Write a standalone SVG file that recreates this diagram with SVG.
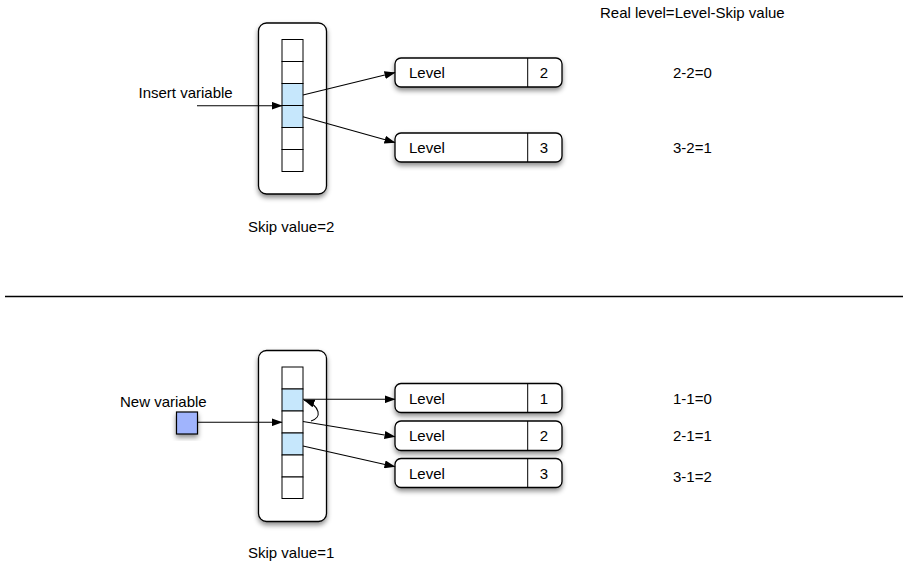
<svg xmlns="http://www.w3.org/2000/svg" width="903" height="565" viewBox="0 0 903 565">
<style>
text{font-family:"Liberation Sans",Arial,sans-serif;font-size:15px;fill:#000}
.box{fill:#fff;stroke:#000;stroke-width:1.3}
.cell{fill:#fff;stroke:#000;stroke-width:1}
.hl{fill:#c6e7fc}
.conn{fill:none;stroke:#000;stroke-width:1.1;marker-end:url(#ah)}
.sh{filter:url(#ds)}
</style>
<defs>
<filter id="ds" x="-30%" y="-30%" width="160%" height="160%">
<feDropShadow dx="0" dy="3" stdDeviation="2.5" flood-color="#000" flood-opacity="0.45"/>
</filter>
<marker id="ah" markerWidth="11" markerHeight="8" refX="10.5" refY="4" orient="auto" markerUnits="userSpaceOnUse">
<path d="M0,0 L11,4 L0,8 Z" fill="#000"/>
</marker>
</defs>
<rect width="903" height="565" fill="#fff"/>

<text x="600" y="17.5">Real level=Level-Skip value</text>

<!-- Top section -->
<g id="array-top">
<rect class="box sh" x="258.5" y="23" width="68" height="171" rx="8"/>
<rect class="cell" x="282" y="39.5" width="21" height="22"/>
<rect class="cell" x="282" y="61.5" width="21" height="22"/>
<rect class="cell hl" x="282" y="83.5" width="21" height="22"/>
<rect class="cell hl" x="282" y="105.5" width="21" height="22"/>
<rect class="cell" x="282" y="127.5" width="21" height="22"/>
<rect class="cell" x="282" y="149.5" width="21" height="22"/>
</g>
<g id="label-insert"><text x="138.5" y="97.5">Insert variable</text></g>
<g id="skip-top"><text x="248" y="232">Skip value=2</text></g>

<g id="level-top-2">
<rect class="box sh" x="395" y="58" width="167" height="29" rx="6"/>
<line x1="527.7" y1="58" x2="527.7" y2="87" stroke="#000" stroke-width="1"/>
<text x="409" y="77.5">Level</text>
<text x="544" y="77.5" text-anchor="middle">2</text>
</g>
<g id="level-top-3">
<rect class="box sh" x="395" y="133" width="167" height="29" rx="6"/>
<line x1="527.7" y1="133" x2="527.7" y2="162" stroke="#000" stroke-width="1"/>
<text x="409" y="152.5">Level</text>
<text x="544" y="152.5" text-anchor="middle">3</text>
</g>
<text x="673" y="77.5">2-2=0</text>
<text x="673" y="152.5">3-2=1</text>

<line x1="5" y1="296.5" x2="903" y2="296.5" stroke="#000" stroke-width="1.3"/>

<!-- Bottom section -->
<g id="array-bottom">
<rect class="box sh" x="258.5" y="350.5" width="68" height="171" rx="8"/>
<rect class="cell" x="282" y="367" width="21" height="22"/>
<rect class="cell hl" x="282" y="389" width="21" height="22"/>
<rect class="cell" x="282" y="411" width="21" height="22"/>
<rect class="cell hl" x="282" y="433" width="21" height="22"/>
<rect class="cell" x="282" y="455" width="21" height="22"/>
<rect class="cell" x="282" y="477" width="21" height="21.5"/>
</g>
<g id="new-variable">
<text x="120" y="406.5">New variable</text>
<rect class="sh" x="176.5" y="412" width="21" height="22" fill="#a0b4fd" stroke="#000" stroke-width="1.2"/>
</g>
<g id="skip-bottom"><text x="248" y="557.5">Skip value=1</text></g>

<g id="level-bot-1">
<rect class="box sh" x="395" y="383.5" width="167" height="29" rx="6"/>
<line x1="527.7" y1="383.5" x2="527.7" y2="412.5" stroke="#000" stroke-width="1"/>
<text x="409" y="403.5">Level</text>
<text x="544" y="403.5" text-anchor="middle">1</text>
</g>
<g id="level-bot-2">
<rect class="box sh" x="395" y="421" width="167" height="29.5" rx="6"/>
<line x1="527.7" y1="421" x2="527.7" y2="450.5" stroke="#000" stroke-width="1"/>
<text x="409" y="441">Level</text>
<text x="544" y="441" text-anchor="middle">2</text>
</g>
<g id="level-bot-3">
<rect class="box sh" x="395" y="458.5" width="167" height="29" rx="6"/>
<line x1="527.7" y1="458.5" x2="527.7" y2="487.5" stroke="#000" stroke-width="1"/>
<text x="409" y="478.5">Level</text>
<text x="544" y="478.5" text-anchor="middle">3</text>
</g>
<text x="673" y="403.5">1-1=0</text>
<text x="673" y="441">2-1=1</text>
<text x="673" y="482">3-1=2</text>

<g id="connectors">
<path class="conn" d="M197,105.7 L282,105.7"/>
<path class="conn" d="M303,95 L395,72.5"/>
<path class="conn" d="M303,116.7 L395,142.5"/>
<path class="conn" d="M197.5,422.3 L282,422.3"/>
<path class="conn" d="M303,399.3 L395,399.3"/>
<path class="conn" d="M303,421.5 L395,436.7"/>
<path class="conn" d="M303,446 L395,466.7"/>
<path class="conn" d="M311,421 C322,418 321,406 304,400"/>
</g>
</svg>
